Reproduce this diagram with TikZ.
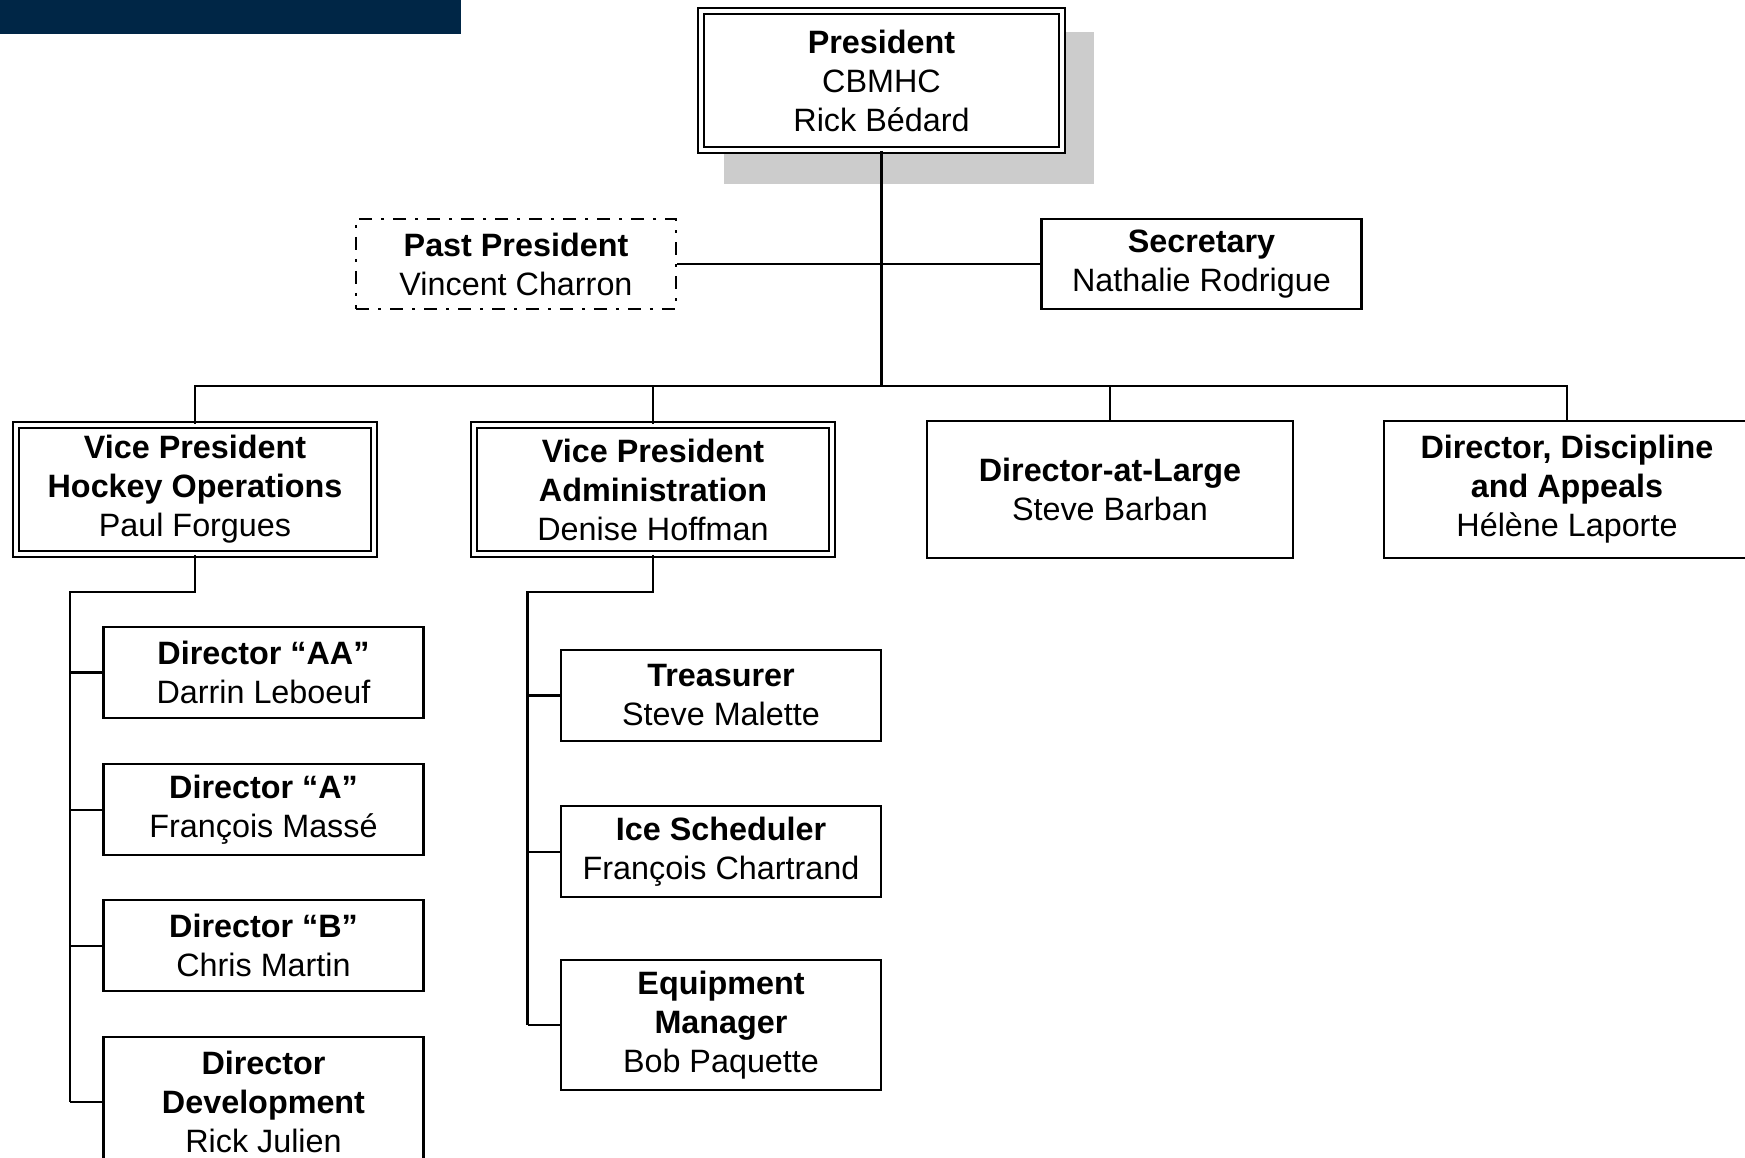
\documentclass[tikz,border=0pt]{standalone}
\usepackage{fontspec}
\setmainfont{Liberation Sans}
\usepackage{xcolor}
\usepackage{tikz}
\usetikzlibrary{positioning, backgrounds, calc}

\definecolor{barnavy}{HTML}{002646}
\definecolor{shadowgray}{HTML}{CCCCCC}

\begin{document}
\begin{tikzpicture}[
            box/.style={rectangle, draw, line width=0.6pt, fill=white, minimum width=3.2cm,
                        minimum height=0.91cm, align=center, inner sep=0pt,
                        font=\fontsize{9.2}{11.1}\selectfont},
            headbox/.style={box, minimum width=3.66cm, minimum height=1.37cm},
            vpbox/.style={box, double, double distance=0.04cm, minimum width=3.578cm,
                          minimum height=1.288cm},
            pastbox/.style={box, minimum height=0.90cm,
                            dash pattern=on 0.13cm off 0.09cm on 0.03cm off 0.09cm},
            link/.style={line width=0.6pt}
        ]

        \useasboundingbox (0,0) rectangle (17.45,-11.58);

        % ===== TOP BAR =====
        \fill[barnavy] (0,0) rectangle (4.61,-0.34);

        % ===== PRESIDENT =====
        \node[vpbox, minimum width=3.608cm, minimum height=1.388cm] (pres) at (8.815,-0.805)
            {\textbf{President}\\CBMHC\\Rick Bédard};
        \begin{scope}[on background layer]
            \fill[shadowgray] ([shift={(0.24,-0.33)}]pres.south west) rectangle ([shift={(0.31,-0.22)}]pres.north east);
        \end{scope}

        % ===== ADVISORY ROW =====
        \node[pastbox] (past) at (5.16,-2.64) {\textbf{Past President}\\Vincent Charron};
        \node[box, minimum height=0.90cm] (sec) at (12.015,-2.64) {\textbf{Secretary}\\Nathalie Rodrigue};

        % ===== SECOND ROW =====
        \coordinate (bus) at (0,-3.86);
        \node[vpbox] (vph) at (1.95,-4.895) {\textbf{Vice President}\\\textbf{Hockey Operations}\\Paul Forgues};
        \node[vpbox] (vpa) at (6.53,-4.895) {\textbf{Vice President}\\\textbf{Administration}\\Denise Hoffman};
        \node[headbox] (dal) at (11.10,-4.895) {\textbf{Director-at-Large}\\Steve Barban};
        \node[headbox] (dda) at (15.67,-4.895) {\textbf{Director, Discipline}\\\textbf{and Appeals}\\Hélène Laporte};

        % ===== HOCKEY OPERATIONS =====
        \node[box] (daa) at (2.635,-6.725) {\textbf{Director “AA”}\\Darrin Leboeuf};
        \node[box, below=0.44cm of daa] (da) {\textbf{Director “A”}\\François Massé};
        \node[box, below=0.43cm of da] (db) {\textbf{Director “B”}\\Chris Martin};
        \node[box, below=0.44cm of db, minimum height=1.29cm] (dev) {\textbf{Director}\\\textbf{Development}\\Rick Julien};

        % ===== ADMINISTRATION =====
        \node[box] (tres) at (7.21,-6.955) {\textbf{Treasurer}\\Steve Malette};
        \node[box, below=0.63cm of tres] (ice) {\textbf{Ice Scheduler}\\François Chartrand};
        \node[box, below=0.61cm of ice, minimum height=1.30cm] (equip) {\textbf{Equipment}\\\textbf{Manager}\\Bob Paquette};

        % ===== CONNECTORS =====
        \draw[link] (pres.south) -- (pres.south |- bus);
        \draw[link] (past.east) -- (sec.west);
        \foreach \n in {vph,vpa,dal,dda}
            \draw[link] (pres.south |- bus) -- (\n.north |- bus) -- (\n.north);

        % hockey operations branch
        \coordinate (hk) at (0.70,-5.92);
        \draw[link] (vph.south) |- (hk) -- (hk |- dev.west);
        \foreach \c in {daa,da,db,dev}
            \draw[link] (hk |- \c.west) -- (\c.west);

        % administration branch
        \coordinate (ad) at (5.275,-5.92);
        \draw[link] (vpa.south) |- (ad) -- (ad |- equip.west);
        \foreach \c in {tres,ice,equip}
            \draw[link] (ad |- \c.west) -- (\c.west);

\end{tikzpicture}
\end{document}
